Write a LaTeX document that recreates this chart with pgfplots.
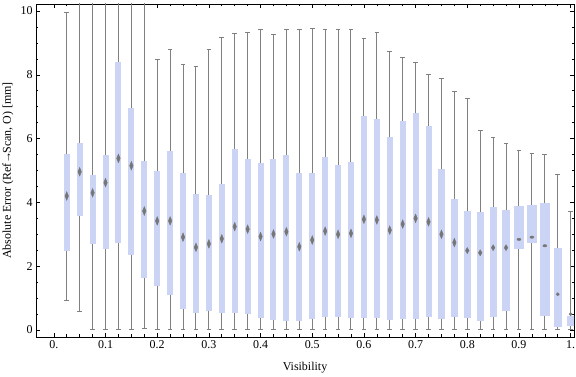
\documentclass[border=0pt]{standalone}
\usepackage{fontspec}
\setmainfont{Liberation Serif}
\usepackage{pgfplots}
\usepackage{pgfplotstable}
\pgfplotsset{compat=1.18}
\usepgfplotslibrary{statistics}
\definecolor{boxblue}{RGB}{204,212,245}
\definecolor{whisk}{RGB}{128,128,128}
\definecolor{medc}{RGB}{118,118,118}

\pgfplotstableread{
x     lw    lq    med   uq    uw    w
0.025 0.91  2.49  4.20  5.52  9.96  0.0116
0.050 0.57  3.57  4.96  5.85  10.6  0.0116
0.075 0.02  2.70  4.30  4.86  10.6  0.0116
0.100 0.02  2.53  4.62  5.49  10.6  0.0116
0.125 0.00  2.74  5.38  8.40  10.6  0.0116
0.150 0.00  2.35  5.15  6.96  10.6  0.0116
0.175 0.04  1.62  3.73  5.30  10.6  0.0116
0.200 0.00  1.38  3.42  4.97  8.49  0.0116
0.225 0.00  1.10  3.42  5.61  8.80  0.0116
0.250 0.00  0.66  2.91  4.92  8.33  0.0116
0.275 0.00  0.54  2.59  4.26  8.27  0.0116
0.300 0.00  0.60  2.70  4.23  8.80  0.0116
0.325 0.00  0.54  2.86  4.58  9.18  0.0116
0.350 0.00  0.54  3.24  5.67  9.28  0.0116
0.375 0.00  0.51  3.16  5.36  9.33  0.0116
0.400 0.00  0.39  2.93  5.24  9.42  0.0116
0.425 0.00  0.31  3.01  5.36  9.27  0.0116
0.450 0.00  0.29  3.08  5.49  9.42  0.0116
0.475 0.00  0.27  2.61  4.92  9.42  0.0116
0.500 0.00  0.34  2.82  4.92  9.45  0.0116
0.525 0.00  0.42  3.10  5.42  9.42  0.0116
0.550 0.00  0.42  3.00  5.17  9.42  0.0116
0.575 0.00  0.39  3.03  5.26  9.42  0.0116
0.600 0.00  0.39  3.47  6.70  9.14  0.0116
0.625 0.00  0.39  3.45  6.61  9.33  0.0116
0.650 0.00  0.31  3.13  6.05  8.73  0.0116
0.675 0.00  0.34  3.32  6.55  8.55  0.0116
0.700 0.00  0.34  3.50  6.79  8.39  0.0116
0.725 0.00  0.42  3.39  6.39  8.01  0.0116
0.750 0.00  0.34  3.00  5.05  7.88  0.0122
0.775 0.00  0.42  2.74  4.11  7.49  0.0138
0.800 0.00  0.39  2.49  3.73  7.26  0.0138
0.825 0.00  0.29  2.42  3.70  6.26  0.0138
0.850 0.00  0.42  2.58  3.86  6.02  0.0138
0.875 0.00  0.60  2.58  3.75  5.85  0.0155
0.900 0.00  2.55  2.84  3.89  5.63  0.0200
0.925 0.00  2.74  2.91  3.92  5.54  0.0205
0.950 0.00  0.45  2.64  3.99  5.51  0.0200
0.975 0.00  0.10  1.12  2.57  4.86  0.0155
1.000 0.00  0.13  0.50  0.44  3.73  0.0160
}\data

\begin{document}
\begin{tikzpicture}
\useasboundingbox (-36bp,-40bp) rectangle (540bp,337bp);
\begin{axis}[
  at={(0,0)}, anchor=south west,
  scale only axis, width=538bp, height=333bp,
  xmin=-0.0345, xmax=1.0065, ymin=-0.22, ymax=10.22,
  xtick={0,0.1,0.2,0.3,0.4,0.5,0.6,0.7,0.8,0.9,1},
  xticklabels={0.,0.1,0.2,0.3,0.4,0.5,0.6,0.7,0.8,0.9,1.},
  minor x tick num=3,
  ytick={0,2,4,6,8,10},
  yticklabels={0,2,4,6,8,10},
  minor y tick num=3,
  xtick pos=both, ytick pos=both,
  tick align=inside,
  major tick length=4bp, minor tick length=2.5bp,
  tick style={black, line width=0.6bp},
  axis line style={line width=0.8bp},
  font=\fontsize{12}{14}\selectfont,
  xlabel={Visibility},
  ylabel={Absolute Error (Ref\kern-0.3pt→\kern-2ptScan, O) [mm]},
  xlabel style={at={(axis description cs:0.5,-0.093)}, anchor=center},
  ylabel style={at={(axis description cs:-0.052,0.5)}, anchor=center},
  clip=true,
  boxplot/draw direction=y,
  boxplot/every box/.style={fill=boxblue, draw=none},
  boxplot/every whisker/.style={whisk, line width=1bp},
  boxplot/every median/.style={draw=none},
  boxplot/whisker extend=0.009,
]
\pgfplotsinvokeforeach{0,...,39}{
  \pgfplotstablegetelem{#1}{x}\of\data \edef\bx{\pgfplotsretval}
  \pgfplotstablegetelem{#1}{lw}\of\data \edef\blw{\pgfplotsretval}
  \pgfplotstablegetelem{#1}{lq}\of\data \edef\blq{\pgfplotsretval}
  \pgfplotstablegetelem{#1}{med}\of\data \edef\bmed{\pgfplotsretval}
  \pgfplotstablegetelem{#1}{uq}\of\data \edef\buq{\pgfplotsretval}
  \pgfplotstablegetelem{#1}{uw}\of\data \edef\buw{\pgfplotsretval}
  \pgfplotstablegetelem{#1}{w}\of\data \edef\bw{\pgfplotsretval}
  \edef\temp{\noexpand\addplot[boxplot prepared={draw position=\bx,
      lower whisker=\blw, lower quartile=\blq, median=\bmed,
      upper quartile=\buq, upper whisker=\buw, box extend=\bw},
      boxplot/draw direction=y]
      coordinates {};}
  \temp
}
% medians
\addplot[medc, only marks, mark=diamond*, mark size=4.3bp,
  mark options={xscale=0.55, draw=none, fill=medc},
  restrict expr to domain={\coordindex}{0:30}] table[x=x, y=med]{\data};
\addplot[medc, only marks, mark=diamond*, mark size=3bp,
  mark options={xscale=0.8, draw=none, fill=medc},
  restrict expr to domain={\coordindex}{31:34}] table[x=x, y=med]{\data};
\addplot[medc, only marks, mark=*, mark size=2bp,
  mark options={yscale=0.6, draw=none, fill=medc},
  restrict expr to domain={\coordindex}{35:37}] table[x=x, y=med]{\data};
\addplot[medc, only marks, mark=*, mark size=1.6bp,
  mark options={draw=none, fill=medc},
  restrict expr to domain={\coordindex}{38:39}] table[x=x, y=med]{\data};
\end{axis}
\end{tikzpicture}
\end{document}
